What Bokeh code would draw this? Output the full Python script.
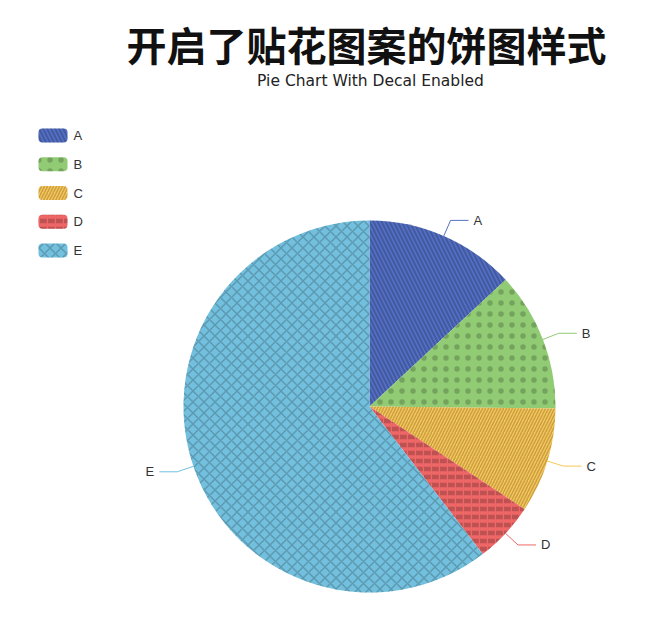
import math
from bokeh.plotting import figure
from bokeh.models import Range1d
from bokeh.core.properties import value
from bokeh.embed import file_html
from bokeh.resources import INLINE

# ---- data ----
names = ["A", "B", "C", "D", "E"]
values = [335, 310, 234, 135, 1548]
colors = ["#5470c6", "#91cc75", "#fac858", "#ee6666", "#73c0de"]
title_text = "开启了贴花图案的饼图样式"
subtitle_text = "Pie Chart With Decal Enabled"

# ---- styles ----
patterns = ["\\", ".", "/", '"', "x"]
hscales = [8, 11, 6, 8, 11]
hweights = [2.0, 1.0, 1.5, 4.5, 1.5]

W, H = 647, 604


def py(page_y):
    return H - page_y


p = figure(width=W, height=H, x_range=Range1d(0, W), y_range=Range1d(0, H),
           output_backend="svg", toolbar_location=None, min_border=0,
           x_axis_location=None, y_axis_location=None)
p.grid.visible = False
p.outline_line_color = None
p.background_fill_color = "white"

cx, cy, R = 369, py(406), 186
total = sum(values)
cum = 0
for i, (n, v, c) in enumerate(zip(names, values, colors)):
    a0 = math.pi / 2 - 2 * math.pi * cum / total
    cum += v
    a1 = math.pi / 2 - 2 * math.pi * cum / total
    p.wedge(x=cx, y=cy, radius=R, start_angle=a1, end_angle=a0, direction="anticlock",
            fill_color=c, line_color=None,
            hatch_pattern=patterns[i], hatch_color="black", hatch_alpha=0.2,
            hatch_scale=hscales[i], hatch_weight=hweights[i])
    m = (a0 + a1) / 2
    x0, y0 = cx + R * math.cos(m), cy + R * math.sin(m)
    x1, y1 = x0 + 17 * math.cos(m), y0 + 17 * math.sin(m)
    sgn = 1 if math.cos(m) >= 0 else -1
    x2 = x1 + sgn * 18
    p.line([x0, x1, x2], [y0, y1, y1], line_color=c, line_width=1)
    p.text(x=[x2 + sgn * 5], y=[y1], text=[n], text_align="left" if sgn > 0 else "right",
           text_baseline="middle", text_font=value("Liberation Sans"), text_font_size="13px",
           text_color="#333333")

    # legend
    ly = py(135 + i * 28.75)
    p.quad(left=38, right=67, top=ly + 7, bottom=ly - 7, border_radius=4,
           fill_color=c, line_color=None,
           hatch_pattern=patterns[i], hatch_color="black", hatch_alpha=0.2,
           hatch_scale=hscales[i], hatch_weight=hweights[i])
    p.text(x=[73], y=[ly], text=[n], text_align="left", text_baseline="middle",
           text_font=value("Liberation Sans"), text_font_size="13px", text_color="#333333")

p.text(x=[366], y=[py(43)], text=[title_text], text_align="center", text_baseline="middle",
       text_font=value("Noto Sans CJK SC"), text_font_style="bold", text_font_size="40px",
       text_color="#111111")
p.text(x=[370], y=[py(80)], text=[subtitle_text], text_align="center", text_baseline="middle",
       text_font=value("DejaVu Sans"), text_font_size="15.5px", text_color="#222222")

open("out.html", "w").write(file_html(p, INLINE))
